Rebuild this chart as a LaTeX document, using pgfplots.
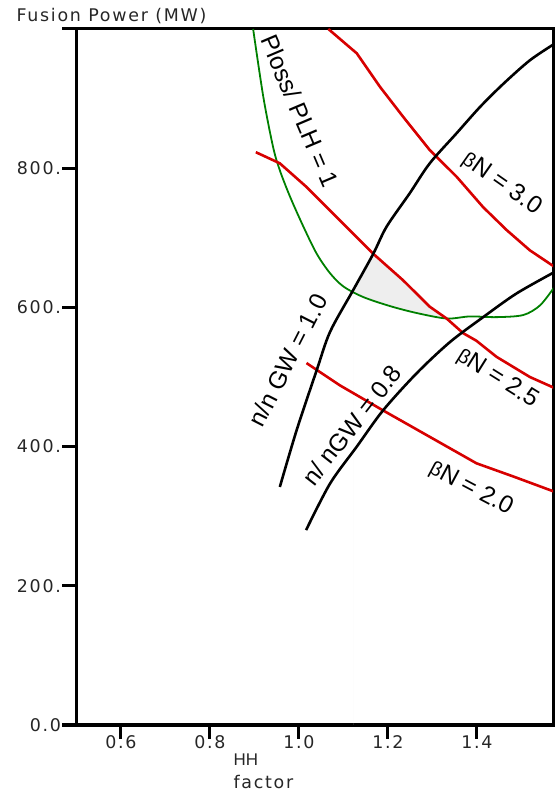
\documentclass[border=0pt]{standalone}
\usepackage{fontspec}
\setmainfont{Liberation Sans}
\newfontfamily\dv[LetterSpace=10]{DejaVu Sans}
\usepackage{pgfplots}
\pgfplotsset{compat=1.18}
\definecolor{cred}{RGB}{215,0,0}
\definecolor{cgreen}{RGB}{0,128,0}
\definecolor{cfill}{RGB}{238,238,238}
\newcommand{\lbl}{\fontsize{24.5}{27}\selectfont}
\newcommand{\bet}{{\fontsize{20}{22}\selectfont β}}
\begin{document}
\begin{tikzpicture}
\begin{axis}[
  scale only axis, width=476.5bp, height=696bp,
  xmin=0.5, xmax=1.571, ymin=0, ymax=1000,
  xtick={0.6,0.8,1.0,1.2,1.4}, xticklabels={0.6,0.8,1.0,1.2,1.4},
  ytick={0,200,400,600,800,1000}, yticklabels={0.0,200.,400.,600.,800.,{}},
  xtick pos=bottom, ytick pos=left, tick align=outside,
  major tick length=14bp,
  every tick/.style={black, line width=3bp},
  axis line style={line width=3bp},
  ticklabel style={font=\fontsize{17.5}{19}\dv, text=black!85},
  xticklabel style={yshift=7bp},
  yticklabel style={xshift=2bp},
]
% shaded allowed region
\addplot[fill=cfill, draw=none] coordinates {
 (1.122,624) (1.145,651) (1.167,677) (1.200,657) (1.234,639) (1.264,620) (1.294,601) (1.332,584)
 (1.294,589) (1.264,592) (1.204,602) (1.144,615) (1.122,624)} \closedcycle;
% Ploss/PLH = 1
\addplot[cgreen, line width=1.8bp, smooth] coordinates {
 (0.897,1000) (0.920,902) (0.942,830) (0.957,797) (0.980,759) (1.010,716) (1.040,677)
 (1.070,649) (1.100,630) (1.144,615) (1.204,602) (1.264,592) (1.332,584) (1.384,587)
 (1.444,586) (1.504,589) (1.542,603) (1.575,630)};
% betaN = 3.0
\addplot[cred, line width=2.6bp] coordinates {
 (1.066,1000) (1.130,965) (1.182,917) (1.234,874) (1.294,826) (1.354,788) (1.414,744)
 (1.467,711) (1.519,682) (1.575,658)};
% betaN = 2.5
\addplot[cred, line width=2.6bp] coordinates {
 (0.903,823) (0.957,807) (1.017,773) (1.092,725) (1.167,677) (1.234,639) (1.294,601)
 (1.332,584) (1.369,563) (1.399,552) (1.444,529) (1.519,500) (1.575,484)};
% betaN = 2.0
\addplot[cred, line width=2.6bp] coordinates {
 (1.017,520) (1.092,488) (1.189,452) (1.294,414) (1.399,376) (1.482,357) (1.575,335)};
% n/nGW = 1.0
\addplot[black, line width=2.6bp, smooth] coordinates {
 (0.957,342) (0.995,424) (1.040,510) (1.070,565) (1.122,625) (1.167,677) (1.197,716)
 (1.249,764) (1.294,807) (1.354,850) (1.407,888) (1.459,921) (1.519,955) (1.575,979)};
% n/nGW = 0.8
\addplot[black, line width=2.6bp, smooth] coordinates {
 (1.016,280) (1.070,347) (1.130,400) (1.189,452) (1.264,505) (1.339,550) (1.414,586)
 (1.489,620) (1.575,651)};
\node[rotate=-67, font=\lbl] at (axis cs:1.002,882) {Ploss/ PLH = 1};
\node[rotate=-35, font=\lbl] at (axis cs:1.456,778) {\bet N = 3.0};
\node[rotate=-32, font=\lbl] at (axis cs:1.447,498) {\bet N = 2.5};
\node[rotate=-28, font=\lbl] at (axis cs:1.387,340) {\bet N = 2.0};
\node[rotate=63, font=\lbl] at (axis cs:0.975,524) {n/n GW = 1.0};
\node[rotate=52, font=\lbl] at (axis cs:1.119,431) {n/ nGW = 0.8};
\end{axis}
\node[anchor=west, font=\fontsize{17.5}{19}\dv, text=black!85] at ([shift={(-63.5bp,13bp)}]current axis.north west) {Fusion Power (MW)};
\node[anchor=west, font=\fontsize{17}{19}\selectfont, text=black!85] at ([shift={(153.5bp,-34.5bp)}]current axis.south west) {HH};
\node[anchor=west, font=\fontsize{17.5}{19}\dv, text=black!85] at ([shift={(153.5bp,-57bp)}]current axis.south west) {factor};
\path ([shift={(-76.5bp,-72bp)}]current axis.south west) rectangle ([shift={(3bp,29bp)}]current axis.north east);
\end{tikzpicture}
\end{document}
